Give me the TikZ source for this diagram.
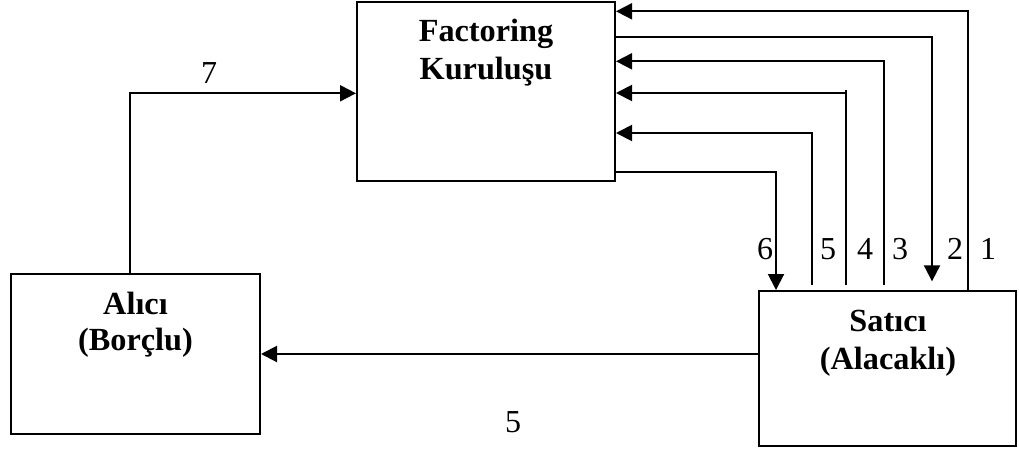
\documentclass[tikz,border=0pt]{standalone}
\usepackage{fontspec}
\setmainfont{Liberation Serif}
\usetikzlibrary{arrows.meta,fit}
\begin{document}
\begin{tikzpicture}[x=0.75pt,y=-0.75pt,
  box/.style={draw,line width=1.5pt,inner sep=0pt},
  flow/.style={line width=1.5pt,-{Triangle[length=12pt,width=12pt]}},
  plain/.style={line width=1.5pt},
  title/.style={font=\fontsize{24.2}{29}\selectfont\bfseries,anchor=base,inner sep=0pt},
  num/.style={font=\fontsize{24}{29}\selectfont,inner sep=0pt}]
\useasboundingbox (0,0) rectangle (1019,453);

% the three parties
\node[box,fit={(357,2) (615,181)}] (F) {};
\node[box,fit={(11,274) (260,434)}] (A) {};
\node[box,fit={(759,291) (1016,446)}] (S) {};

\node[title] (Ft1) at (486,41.7) {Factoring};
\node[title] (Ft2) at (486,79.7) {Kuruluşu};
\node[title] (At1) at (135.5,314) {Alıcı};
\node[title] (At2) at (135.5,350) {(Borçlu)};
\node[title] (St1) at (888,331) {Satıcı};
\node[title] (St2) at (888,369) {(Alacaklı)};

% bend points of the flows
\coordinate (b1) at (968,11.3);
\coordinate (b2) at (932,36.7);
\coordinate (b3) at (884,61.3);
\coordinate (b4) at (846,93);
\coordinate (b5) at (812,133);
\coordinate (b6) at (776,172);
\coordinate (b7) at (130,93.3);
\coordinate (b8) at (500,354);

% flows between seller and factor
\draw[flow] (S.north -| b1) |- (F.east |- b1);
\draw[flow,shorten >=6.5pt] (F.east |- b2) -| (S.north -| b2);
\draw[flow,shorten <=3.5pt] (S.north -| b3) |- (F.east |- b3);
\draw[flow,shorten <=3.5pt] (S.north -| b4) |- (F.east |- b4);
\draw[plain] (b4) -- ++(0,-3);
\draw[flow,shorten <=3.5pt] (S.north -| b5) |- (F.east |- b5);
\draw[flow] (F.east |- b6) -| (S.north -| b6);

% buyer pays the factor
\draw[flow] (A.north -| b7) |- (F.west |- b7);
% goods from seller to buyer
\draw[flow] (S.west |- b8) -- (A.east |- b8);

% step numbers
\node[num] (n6) at (765,249) {6};
\node[num] (n5) at (828,249) {5};
\node[num] (n4) at (865,249) {4};
\node[num] (n3) at (900,249) {3};
\node[num] (n2) at (955,249) {2};
\node[num] (n1) at (988,249) {1};
\node[num] (n7) at (209,73) {7};
\node[num] (n5b) at (513,422) {5};
\end{tikzpicture}
\end{document}
